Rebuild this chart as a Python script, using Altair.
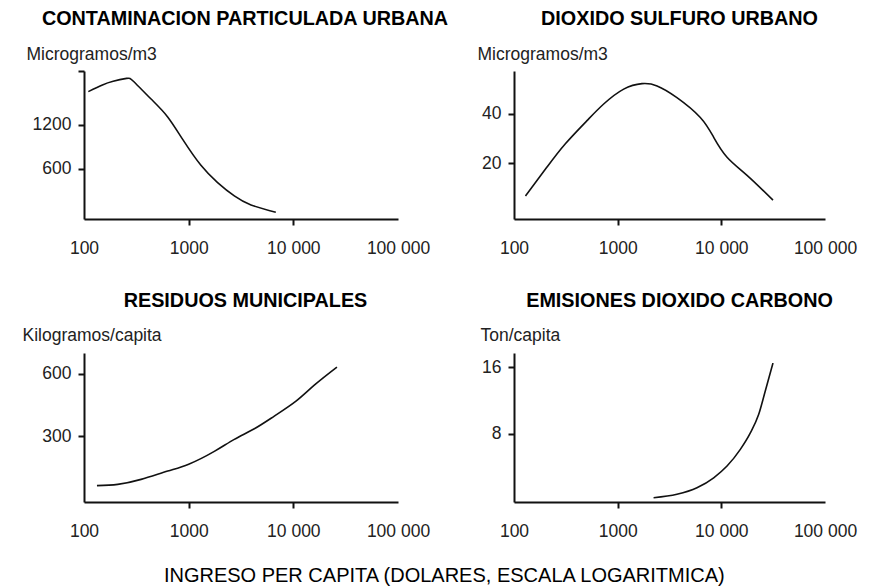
import altair as alt
import pandas as pd

FONT = "Liberation Sans"
INK = "#111111"

# ---- data ----
pm_income = [110, 150, 190, 255, 300, 440, 630, 880, 1310, 1890, 2730, 3940, 6800]
pm_value = [1655, 1745, 1795, 1835, 1790, 1550, 1310, 1000, 650, 415, 232, 110, 10]

so2_income = [129, 208, 313, 506, 733, 1143, 1718, 2400, 3730, 6270, 8440, 11350, 17700, 31500]
so2_value = [6.9, 18.5, 27.9, 37.2, 43.9, 49.9, 52.1, 51.2, 46.5, 38.5, 30.5, 22.5, 15.2, 5.2]

waste_income = [133, 210, 351, 631, 1000, 1758, 2730, 4240, 6580, 10600, 15860, 26100]
waste_value = [61, 67, 91, 131, 164, 226, 284, 335, 396, 468, 545, 632]

co2_income = [2220, 3730, 5820, 8440, 11350, 15250, 19050, 22900, 26500, 31500]
co2_value = [0.31, 0.72, 1.51, 2.71, 4.12, 6.12, 8.1, 10.3, 13.1, 16.5]

x_ticks = [100, 1000, 10000, 100000]

titles = ["CONTAMINACION PARTICULADA URBANA", "DIOXIDO SULFURO URBANO",
          "RESIDUOS MUNICIPALES", "EMISIONES DIOXIDO CARBONO"]
units = ["Microgramos/m3", "Microgramos/m3", "Kilogramos/capita", "Ton/capita"]
y_ticks = [[600, 1200, 1936], [20, 40], [300, 600], [8, 16]]
y_domains = [[-82, 1936], [-2.4, 57.2], [-18, 700], [-0.2, 17.7]]
bottom_title = "INGRESO PER CAPITA (DOLARES, ESCALA LOGARITMICA)"


def panel(i, inc, val, width, height, title_dx, unit_x, unit_y, interp):
    df = pd.DataFrame({"ingreso": inc, "valor": val})
    top = y_domains[i][1]
    xaxis = alt.Axis(
        values=x_ticks,
        labelExpr="datum.value >= 10000 ? replace(format(datum.value, ','), ',', ' ') : format(datum.value, 'd')",
        title=None, grid=False,
        tickColor={"condition": {"test": "datum.value == 100 || datum.value == 100000",
                                 "value": "transparent"}, "value": INK},
        tickSize=6, tickWidth=2, domainWidth=2, domainColor=INK,
        labelFont=FONT, labelFontSize=17.5, labelColor="#222222",
        labelPadding=14.5, labelOverlap=False, labelFlush=False,
    )
    yaxis = alt.Axis(
        values=y_ticks[i], grid=False, format="d",
        labelExpr=f"datum.value >= {top} ? '' : datum.label",
        tickSize=6, tickWidth=2, tickColor=INK, domainWidth=2, domainColor=INK,
        labelFont=FONT, labelFontSize=17.5, labelColor="#222222", labelPadding=7,
        title=units[i], titleAngle=0, titleAlign="left", titleBaseline="alphabetic",
        titleX=unit_x, titleY=unit_y, titleFont=FONT, titleFontSize=17.5,
        titleFontWeight="normal", titleColor="#222222",
    )
    return alt.Chart(df).mark_line(color=INK, strokeWidth=1.6, interpolate=interp).encode(
        x=alt.X("ingreso:Q", scale=alt.Scale(type="log", domain=[100, 100000], nice=False), axis=xaxis),
        y=alt.Y("valor:Q", scale=alt.Scale(domain=y_domains[i], nice=False, zero=False), axis=yaxis),
    ).properties(
        width=width, height=height,
        title=alt.TitleParams(text=titles[i], font=FONT, fontSize=19.8, fontWeight="bold",
                              color="#000000", anchor="middle", frame="group", dx=title_dx,
                              baseline="alphabetic", offset=0),
    )


p1 = panel(0, pm_income, pm_value, 314, 148, 4, -58, -12, "natural")
p2 = panel(1, so2_income, so2_value, 311, 148, 10, -37, -12, "natural")
p3 = panel(2, waste_income, waste_value, 314, 149, 4.5, -62, -12.7, "natural")
p4 = panel(3, co2_income, co2_value, 311, 149, 10, -34, -12.7, "monotone")

chart = alt.concat(p1, p2, p3, p4, columns=2, spacing={"row": 134, "column": 116},
                   bounds="flush").properties(
    title=alt.TitleParams(text=bottom_title, orient="bottom", anchor="middle", font=FONT,
                          fontSize=20, fontWeight="normal", color="#000000",
                          baseline="alphabetic", offset=42, dx=5),
    padding={"left": 14, "top": 1, "right": 5, "bottom": 5},
).configure_view(stroke=None)

chart.save("out.html", embed_options={"renderer": "svg", "actions": False})
